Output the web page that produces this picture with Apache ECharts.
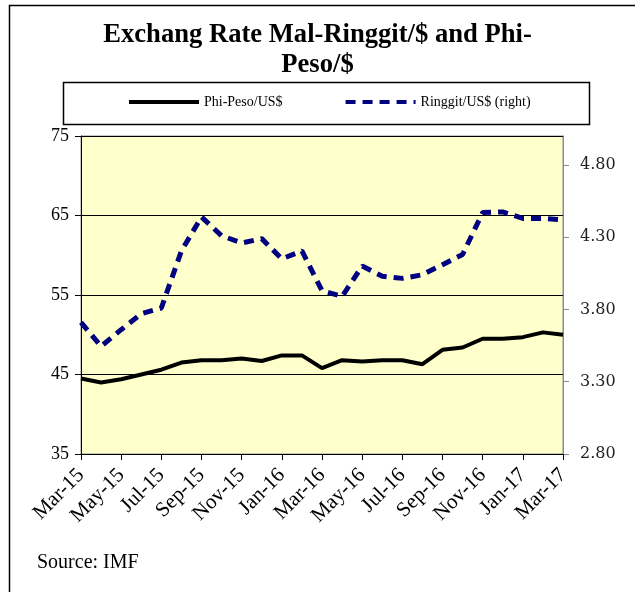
<!DOCTYPE html>
<html>
<head>
<meta charset="utf-8">
<script src="https://cdn.jsdelivr.net/npm/echarts@6/dist/echarts.min.js"></script>
<style>
  html, body { margin: 0; padding: 0; background: #fff; }
  #chart-container { width: 635px; height: 592px; }
</style>
</head>
<body>
<div id="chart-container"></div>
<script>
var months = ['Mar-15', 'Apr-15', 'May-15', 'Jun-15', 'Jul-15', 'Aug-15', 'Sep-15', 'Oct-15',
  'Nov-15', 'Dec-15', 'Jan-16', 'Feb-16', 'Mar-16', 'Apr-16', 'May-16', 'Jun-16', 'Jul-16',
  'Aug-16', 'Sep-16', 'Oct-16', 'Nov-16', 'Dec-16', 'Jan-17', 'Feb-17', 'Mar-17'];

// Philippine peso per US$ (left axis)
var pesoUsd = [44.5, 44.0, 44.4, 45.0, 45.6, 46.5, 46.8, 46.8, 47.0, 46.7, 47.4, 47.4, 45.8,
  46.8, 46.65, 46.8, 46.8, 46.3, 48.1, 48.4, 49.5, 49.5, 49.7, 50.3, 50.0];

// Malaysian ringgit per US$ (right axis)
var ringgitUsd = [3.71, 3.545, 3.66, 3.77, 3.81, 4.205, 4.44, 4.31, 4.26, 4.29, 4.15, 4.205,
  3.93, 3.89, 4.10, 4.03, 4.015, 4.04, 4.11, 4.18, 4.47, 4.475, 4.43, 4.43, 4.42];

var dom = document.getElementById('chart-container');
var myChart = echarts.init(dom, null, { renderer: 'canvas' });

var serif = '"Liberation Serif", "Times New Roman", serif';

var option = {
  animation: false,
  textStyle: { fontFamily: serif },
  title: {
    text: 'Exchang Rate Mal-Ringgit/$ and Phi-\nPeso/$',
    left: 'center',
    top: 15,
    textStyle: {
      fontFamily: serif,
      fontSize: 26.6,
      fontWeight: 'bold',
      color: '#000',
      lineHeight: 30
    }
  },
  legend: {
    left: 122,
    top: 90,
    itemWidth: 70,
    itemHeight: 12,
    itemGap: 61,
    itemStyle: { opacity: 0 },
    lineStyle: { width: 4 },
    textStyle: { fontFamily: serif, fontSize: 14, color: '#000' },
    data: ['Phi-Peso/US$', 'Ringgit/US$ (right)']
  },
  grid: {
    left: 81,
    right: 72,
    top: 136,
    bottom: 138,
    show: true,
    backgroundColor: '#FFFFCC',
    borderColor: '#8c8c8c',
    borderWidth: 1
  },
  xAxis: {
    type: 'category',
    data: months,
    boundaryGap: false,
    axisLine: { lineStyle: { color: '#000', width: 1 } },
    axisTick: { interval: 1, length: 6, lineStyle: { color: '#000' } },
    axisLabel: {
      interval: 1,
      rotate: 45,
      margin: 18,
      fontFamily: serif,
      fontSize: 21,
      color: '#000'
    },
    splitLine: { show: false }
  },
  yAxis: [
    {
      type: 'value',
      min: 35,
      max: 75,
      interval: 10,
      axisLine: { show: true, lineStyle: { color: '#000' } },
      axisTick: { show: true, length: 6, lineStyle: { color: '#000' } },
      axisLabel: { fontFamily: serif, fontSize: 18, color: '#000', margin: 12 },
      splitLine: { show: true, lineStyle: { color: '#000', width: 1 } }
    },
    {
      type: 'value',
      position: 'right',
      min: 2.8,
      max: 5.0,
      interval: 0.5,
      axisLine: { show: true, lineStyle: { color: '#8c8c8c' } },
      axisTick: { show: true, length: 6, lineStyle: { color: '#8c8c8c' } },
      axisLabel: {
        fontFamily: '"DejaVu Serif", serif',
        fontSize: 16,
        color: '#222',
        margin: 17,
        showMaxLabel: false,
        formatter: function (v) { return v.toFixed(2); }
      },
      splitLine: { show: false }
    }
  ],
  series: [
    {
      name: 'Phi-Peso/US$',
      type: 'line',
      yAxisIndex: 0,
      data: pesoUsd,
      symbol: 'none',
      lineStyle: { color: '#000', width: 4 },
      itemStyle: { color: '#000' }
    },
    {
      name: 'Ringgit/US$ (right)',
      type: 'line',
      yAxisIndex: 1,
      data: ringgitUsd,
      symbol: 'none',
      lineStyle: { color: '#000080', width: 5, type: [10, 7] },
      itemStyle: { color: '#000080' }
    }
  ],
  graphic: [
    {
      type: 'rect',
      left: 7,
      top: 3,
      shape: { width: 640, height: 600 },
      style: { fill: 'none', stroke: '#000', lineWidth: 1.5 },
      z: 100
    },
    {
      type: 'rect',
      left: 61,
      top: 80,
      shape: { width: 526, height: 42 },
      style: { fill: 'none', stroke: '#000', lineWidth: 1.5 },
      z: 100
    },
    {
      type: 'text',
      left: 37,
      top: 553,
      style: { text: 'Source: IMF', font: '20px ' + serif, fill: '#000' }
    }
  ]
};

if (option && typeof option === 'object') {
  myChart.setOption(option);
}

window.addEventListener('resize', myChart.resize);
</script>
</body>
</html>
